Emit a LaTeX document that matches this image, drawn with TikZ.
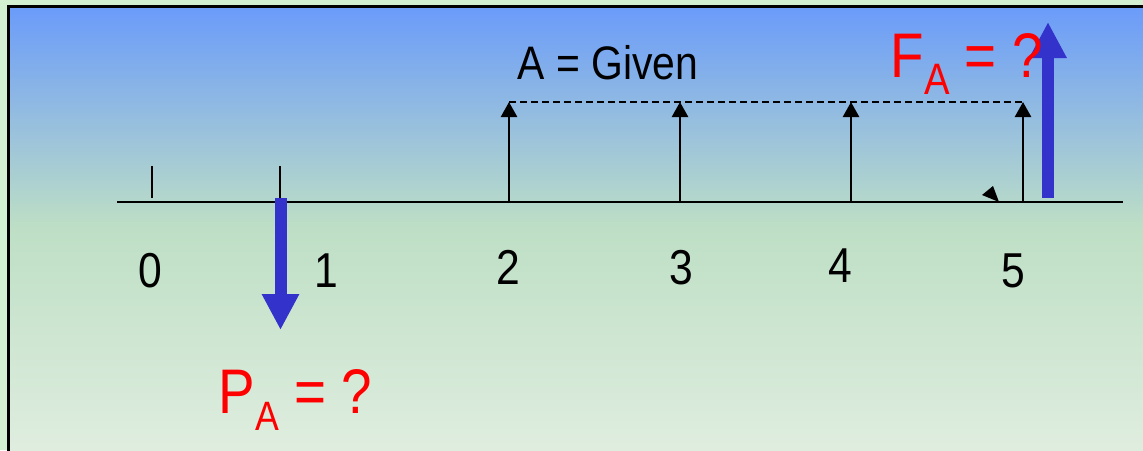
\documentclass[tikz,border=0pt]{standalone}
\usepackage{fontspec}
\setmainfont{Liberation Sans}
\usetikzlibrary{arrows.meta}
\definecolor{bgout}{RGB}{211,240,211}
\definecolor{topblue}{RGB}{106,155,250}
\definecolor{midgreen}{RGB}{190,223,197}
\definecolor{botgreen}{RGB}{223,237,223}
\definecolor{arrowblue}{RGB}{51,51,204}
\newcommand{\cond}[1]{\scalebox{0.87}[1]{#1}}
\begin{document}
\begin{tikzpicture}[x=1pt,y=-1pt,
  lbl/.style={inner sep=0pt, anchor=base, font=\fontsize{49}{49}\selectfont},
  qlbl/.style={inner sep=0pt, anchor=base west, text=red, font=\fontsize{63}{63}\selectfont},
  flow/.style={line width=2.5pt, -{Triangle[width=16pt,length=15pt]}},
  bigflow/.style={line width=12pt, arrowblue, -{Triangle[width=35pt,length=36pt]}},
  tick/.style={line width=2pt},
  axis/.style={line width=2.5pt},
  level/.style={line width=1.5pt, dash pattern=on 7pt off 4pt}]
\useasboundingbox (0,0) rectangle (1143,450);
\fill[bgout] (0,0) rectangle (1143,450);
\shade[top color=topblue, bottom color=botgreen, middle color=midgreen]
  (8,6) rectangle (1143,450);
\draw[line width=3pt] (8,470) -- (8,6) -- (1160,6);

% axis and period points
\coordinate (ax0) at (117,202);
\coordinate (ax1) at (1123,202);
\draw[axis] (ax0) -- (ax1);
\coordinate (t0a) at (152,166); \coordinate (t0b) at (152,198);
\coordinate (t1a) at (280,166); \coordinate (t1b) at (280,198);
\draw[tick] (t0a) -- (t0b);
\draw[tick] (t1a) -- (t1b);

% annuity arrows
\foreach \n/\x in {2/509,3/680,4/851,5/1023}{
  \coordinate (b\n) at (\x,203);
  \coordinate (h\n) at (\x,102);
  \draw[flow] (b\n) -- (h\n);
}
\draw[level] (h2) -- (h5);

% small mark
\fill (982,195) -- (993,186) -- (999,202) -- cycle;

% P and F arrows
\coordinate (ps) at (280.5,198);
\coordinate (pe) at (280.5,330);
\draw[bigflow] (ps) -- (pe);
\coordinate (fs) at (1048,198);
\coordinate (fe) at (1048,22);
\draw[bigflow] (fs) -- (fe);

% labels
\node[lbl] (l0) at (150,287) {\cond{0}};
\node[lbl] (l1) at (326,287) {\cond{1}};
\node[lbl] (l2) at (508,284) {\cond{2}};
\node[lbl] (l3) at (681,284) {\cond{3}};
\node[lbl] (l4) at (840,282) {\cond{4}};
\node[lbl] (l5) at (1013,287) {\cond{5}};
\node[lbl, font=\fontsize{47}{47}\selectfont] (given) at (608,79) {\cond{A = Given}};
\node[qlbl] (pa) at (218.5,413) {\cond{P\raisebox{-17pt}{\fontsize{41}{41}\selectfont A} = ?}};
\node[qlbl] (fa) at (890.5,77) {\cond{F\raisebox{-17pt}{\fontsize{44}{44}\selectfont A} = ?}};
\end{tikzpicture}
\end{document}
